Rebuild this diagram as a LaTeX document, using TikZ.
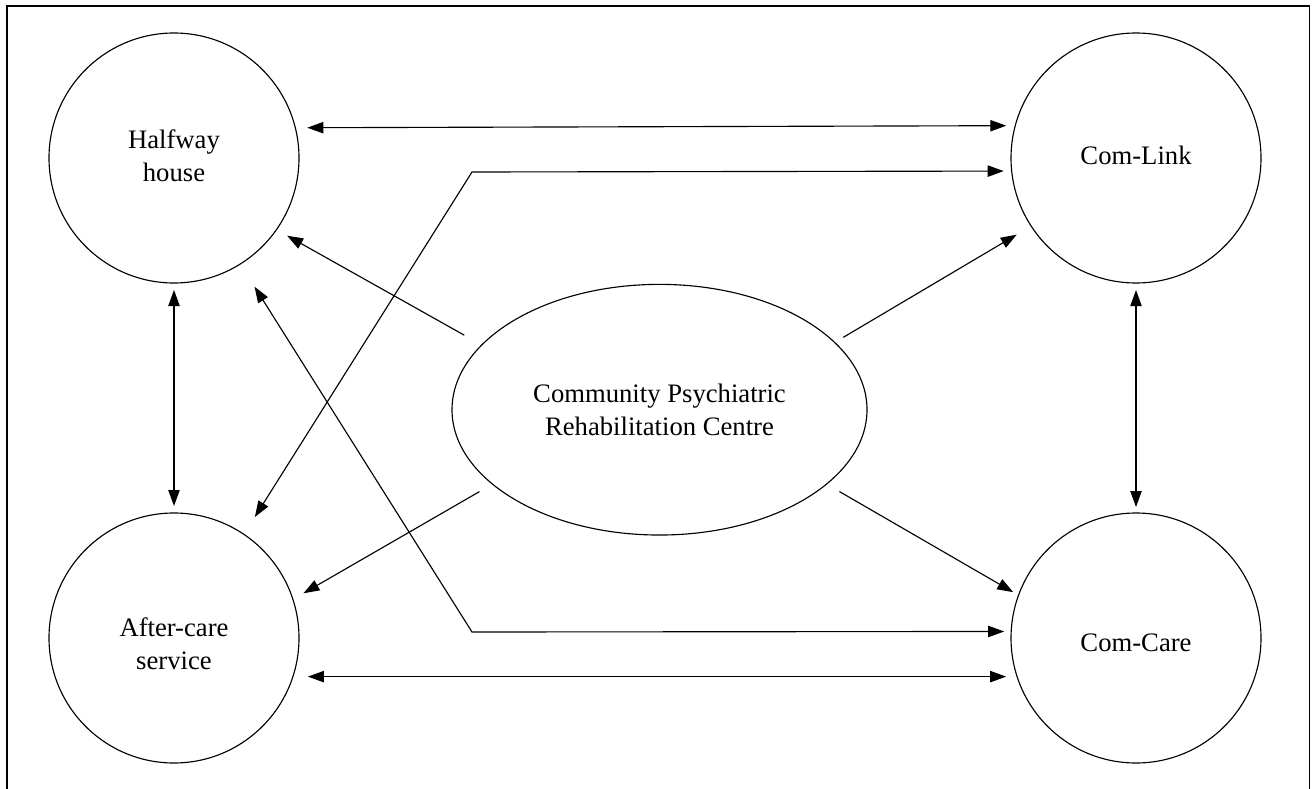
\documentclass[tikz,border=0pt]{standalone}
\usepackage{fontspec}
\setmainfont{Liberation Serif}
\usetikzlibrary{arrows.meta,shapes.geometric}
\tikzset{
  txt/.style={align=center, font=\fontsize{20pt}{24.75pt}\selectfont},
  circ/.style={draw, circle, line width=0.85pt, minimum size=187.5pt, inner sep=0pt, outer sep=0pt},
  ell/.style={draw, ellipse, line width=0.85pt, minimum width=311.25pt, minimum height=188pt, inner sep=0pt, outer sep=0pt, txt},
  one/.style={line width=0.85pt, -{Triangle[length=12pt,width=8.5pt]}},
  two/.style={line width=0.85pt, {Triangle[length=12pt,width=8.5pt]}-{Triangle[length=12pt,width=8.5pt]}},
  frame/.style={line width=0.85pt}
}
\begin{document}
\begin{tikzpicture}[x=0.75pt,y=-0.75pt]
\useasboundingbox (0,0) rectangle (1312,788);
\draw[frame] (7,790) -- (7,6) -- (1309.5,6) -- (1309.5,790);

\node[circ, label={[txt, yshift=2pt]center:{Halfway\\house}}] (hh) at (174,158) {};
\node[circ, label={[txt, yshift=2pt]center:{Com-Link}}] (cl) at (1136,158) {};
\node[circ, label={[txt, yshift=-4pt]center:{After-care\\service}}] (ac) at (174,638) {};
\node[circ, label={[txt, yshift=-3.5pt]center:{Com-Care}}] (cc) at (1136,638) {};
\node[ell] (ce) at (659.5,409.7) {Community Psychiatric\\Rehabilitation Centre};

\coordinate (k1) at (472,172);
\coordinate (k2) at (472,632);

% horizontal links
\draw[two, shorten <=9pt, shorten >=6.75pt] (hh.14.4) -- (cl.165.6);
\draw[two, shorten <=11.25pt, shorten >=8.25pt] (ac.-18.2) -- (cc.198.2);
% vertical links
\draw[two, shorten <=5.25pt, shorten >=5.25pt] (hh.south) -- (ac.north);
\draw[two, shorten <=5.25pt, shorten >=4.5pt] (cl.south) -- (cc.north);
% crossing polylines
\draw[two, shorten <=15.4pt, shorten >=6pt] (ac.56.2) -- (k1) -- (cl.186.4);
\draw[two, shorten <=20.1pt, shorten >=5.25pt] (hh.-58.2) -- (k2) -- (cc.177.25);
% from the centre
\draw[one, shorten <=15pt, shorten >=9.2pt] (ce.160.7) -- (hh.-35.1);
\draw[one, shorten <=7.5pt, shorten >=12.6pt] (ce.21.3) -- (cl.213.6);
\draw[one, shorten <=11.3pt, shorten >=9.15pt] (ce.204) -- (ac.18.3);
\draw[one, shorten <=11.2pt, shorten >=4.6pt] (ce.-24.4) -- (cc.160);
\end{tikzpicture}
\end{document}
